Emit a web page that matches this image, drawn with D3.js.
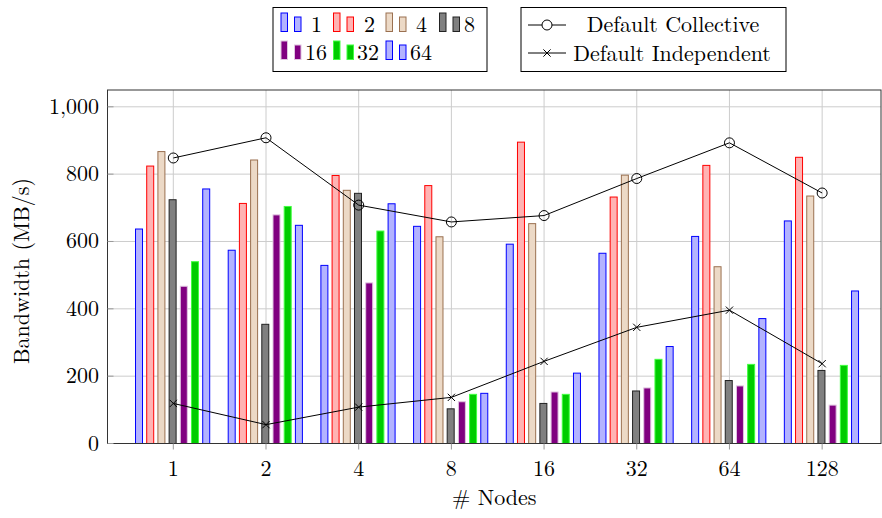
<!DOCTYPE html>
<html>
<head>
<meta charset="utf-8">
<script src="https://cdn.jsdelivr.net/npm/d3@7"></script>
<style>
  body { margin: 0; background: #fff; }
</style>
</head>
<body>
<script>
// data
let nodes = ["1", "2", "4", "8", "16", "32", "64", "128"]
let seriesNames = ["1", "2", "4", "8", "16", "32", "64"]
let s1  = [637, 574, 529, 645, 592, 565, 615, 661]
let s2  = [824, 713, 796, 766, 895, 732, 826, 850]
let s4  = [867, 842, 752, 614, 653, 797, 525, 735]
let s8  = [724, 354, 743, 103, 119, 156, 187, 217]
let s16 = [467, 679, 477, 124, 153, 165, 171, 114]
let s32 = [540, 704, 631, 146, 146, 250, 235, 232]
let s64 = [756, 648, 712, 149, 209, 288, 371, 453]
let collective  = [848, 908, 708, 658, 677, 787, 893, 744]
let independent = [119, 56, 108, 137, 244, 345, 396, 237]
let yTicks = [0, 200, 400, 600, 800, 1000]

let seriesData = [s1, s2, s4, s8, s16, s32, s64]
let fills   = ["#b3b3ff", "#ffb3b3", "#ecd9c6", "#808080", "#800080", "#00cc00", "#b3b3ff"]
let strokes = ["#0000ff", "#ff0000", "#9a7050", "#222222", "#e0c4e0", "#40ff40", "#0000ff"]

let FONT = "'Latin Modern Roman', 'Liberation Serif', serif"
let FS = 22

let W = 882, H = 518
let pLeft = 107.5, pRight = 881, pTop = 90, pBottom = 443.5

let svg = d3.select('body')
    .append('svg')
    .attr('width', W)
    .attr('height', H)
    .attr('font-family', FONT)
    .attr('font-size', FS)

let x = d3.scaleLinear().domain([-0.71, 7.635]).range([pLeft, pRight])
let y = d3.scaleLinear().domain([0, 1000]).range([pBottom, 106.8])
let inner = d3.scaleBand().domain(seriesNames).range([-39.9, 38.5])
    .paddingInner(0.375).paddingOuter(0.1875)

//grid
svg.append('g').selectAll('line').data(yTicks.slice(1)).join('line')
    .attr('x1', pLeft).attr('x2', pRight)
    .attr('y1', d => y(d)).attr('y2', d => y(d))
    .style('stroke', '#cccccc').style('stroke-width', 1)
svg.append('g').selectAll('line').data(nodes).join('line')
    .attr('x1', (d, i) => x(i)).attr('x2', (d, i) => x(i))
    .attr('y1', pTop).attr('y2', pBottom)
    .style('stroke', '#cccccc').style('stroke-width', 1)

//bars
seriesData.forEach((vals, s) => {
  svg.append('g').selectAll('rect').data(vals).join('rect')
      .attr('x', (d, i) => x(i) + inner(seriesNames[s]))
      .attr('y', d => y(d))
      .attr('width', inner.bandwidth())
      .attr('height', d => pBottom - y(d))
      .style('fill', fills[s])
      .style('stroke', strokes[s])
      .style('stroke-width', 1)
})

//lines
let line = d3.line().x((d, i) => x(i)).y(d => y(d))
svg.append('path').datum(collective).attr('d', line)
    .style('fill', 'none').style('stroke', 'black').style('stroke-width', 1)
svg.append('path').datum(independent).attr('d', line)
    .style('fill', 'none').style('stroke', 'black').style('stroke-width', 1)
svg.append('g').selectAll('circle').data(collective).join('circle')
    .attr('cx', (d, i) => x(i)).attr('cy', d => y(d)).attr('r', 5)
    .style('fill', 'none').style('stroke', 'black').style('stroke-width', 1)
let cross = d3.symbol().type(d3.symbolX).size(36)
svg.append('g').selectAll('path').data(independent).join('path')
    .attr('d', cross)
    .attr('transform', (d, i) => `translate(${x(i)},${y(d)})`)
    .style('fill', 'none').style('stroke', 'black').style('stroke-width', 1)

//frame
svg.append('rect')
    .attr('x', pLeft).attr('y', pTop)
    .attr('width', pRight - pLeft).attr('height', pBottom - pTop)
    .style('fill', 'none').style('stroke', '#333').style('stroke-width', 1)

//ticks + labels
svg.append('g').selectAll('line').data(yTicks).join('line')
    .attr('x1', pLeft).attr('x2', pLeft + 6)
    .attr('y1', d => y(d)).attr('y2', d => y(d))
    .style('stroke', '#999')
svg.append('g').selectAll('text').data(yTicks).join('text')
    .attr('x', 99).attr('y', d => y(d) + 7)
    .attr('text-anchor', 'end')
    .text(d => d3.format(',')(d))
svg.append('g').selectAll('line').data(nodes).join('line')
    .attr('x1', (d, i) => x(i)).attr('x2', (d, i) => x(i))
    .attr('y1', pBottom).attr('y2', pBottom + 6)
    .style('stroke', '#999')
svg.append('g').selectAll('text').data(nodes).join('text')
    .attr('x', (d, i) => x(i)).attr('y', 476)
    .attr('text-anchor', 'middle')
    .text(d => d)

svg.append('text')
    .attr('x', (pLeft + pRight) / 2).attr('y', 505)
    .attr('text-anchor', 'middle')
    .text('# Nodes')
svg.append('text')
    .attr('transform', 'translate(29,271) rotate(-90)')
    .attr('text-anchor', 'middle')
    .text('Bandwidth (MB/s)')

//legend 1 (bars)
svg.append('rect')
    .attr('x', 273).attr('y', 7.5).attr('width', 214).attr('height', 64)
    .style('fill', 'white').style('stroke', 'black').style('stroke-width', 1)
let legPos = [[281, 31.5], [333.5, 31.5], [386, 31.5], [439.5, 31.5], [281, 59.5], [333.5, 59.5], [386, 59.5]]
let labX = [311, 364, 416, 464, 305, 357, 410]
seriesNames.forEach((name, s) => {
  let [lx, lb] = legPos[s]
  svg.append('rect')
      .attr('x', lx).attr('y', lb - 18.5).attr('width', 6.5).attr('height', 18.5)
      .style('fill', fills[s]).style('stroke', strokes[s])
  svg.append('rect')
      .attr('x', lx + 13.5).attr('y', lb - 14.5).attr('width', 6.5).attr('height', 14.5)
      .style('fill', fills[s]).style('stroke', strokes[s])
  svg.append('text')
      .attr('x', labX[s]).attr('y', lb)
      .text(name)
})

//legend 2 (lines)
svg.append('rect')
    .attr('x', 521).attr('y', 7.5).attr('width', 265).attr('height', 64)
    .style('fill', 'white').style('stroke', 'black').style('stroke-width', 1)
svg.append('line').attr('x1', 528).attr('x2', 566).attr('y1', 25).attr('y2', 25)
    .style('stroke', 'black')
svg.append('circle').attr('cx', 547).attr('cy', 25).attr('r', 5)
    .style('fill', 'white').style('stroke', 'black')
svg.append('line').attr('x1', 528).attr('x2', 566).attr('y1', 53).attr('y2', 53)
    .style('stroke', 'black')
svg.append('path').attr('d', cross)
    .attr('transform', 'translate(547,53)')
    .style('fill', 'none').style('stroke', 'black')
svg.append('text').attr('x', 673).attr('y', 31.5)
    .attr('text-anchor', 'middle')
    .text('Default Collective')
svg.append('text').attr('x', 672).attr('y', 60.5)
    .attr('text-anchor', 'middle')
    .text('Default Independent')
</script>
</body>
</html>
